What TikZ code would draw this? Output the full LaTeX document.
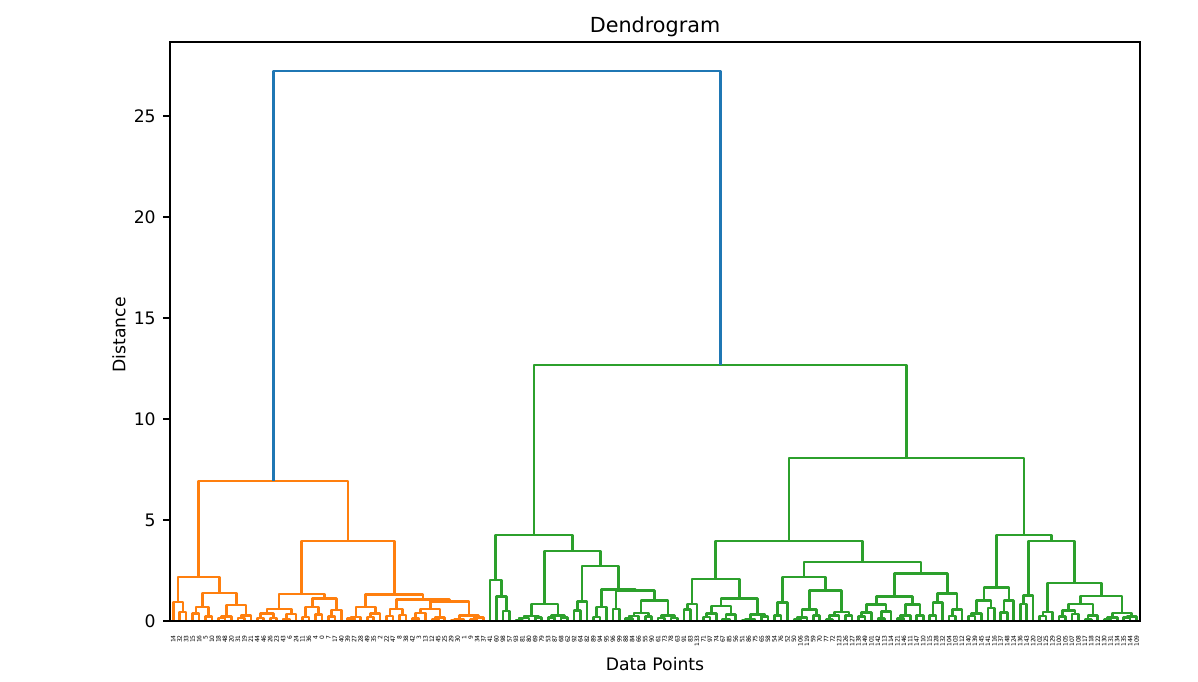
\documentclass[tikz,border=0pt]{standalone}
\usepackage{fontspec}
\setmainfont{DejaVu Sans}
\usepackage{tikz}
\usetikzlibrary{calc}
\definecolor{tabblue}{HTML}{1F77B4}
\definecolor{taborange}{HTML}{FF7F0E}
\definecolor{tabgreen}{HTML}{2CA02C}

% U-shaped link over two clusters, top at height #4
\def\merge#1#2#3#4{%
  \path ($(#2)!0.5!(#3)$) coordinate (#1x);
  \coordinate (#1) at (#1x |- 0,#4);
  \draw (#2) |- (#1) -| (#3);}

% cluster of the leaves #2..#3, top link at height #4
\def\clus#1#2#3#4{%
  \ifnum#2=#3\relax
    \coordinate (#1) at (#2-0.5,0);
  \else
    \begingroup
    \pgfmathtruncatemacro\clusmid{(#2+#3)/2}%
    \pgfmathtruncatemacro\clusnxt{\clusmid+1}%
    \pgfmathsetmacro\clushl{#4*(0.48+0.2*sin(37*#2+53*#3))}%
    \pgfmathsetmacro\clushr{#4*(0.48+0.2*cos(59*#3+23*#2))}%
    \edef\clusgo{\noexpand\clus{#1l}{#2}{\clusmid}{\clushl}%
      \noexpand\clus{#1r}{\clusnxt}{#3}{\clushr}}%
    \clusgo
    \merge{#1}{#1l}{#1r}{#4}%
    \endgroup
  \fi}

\begin{document}
\begin{tikzpicture}[x=0.02cm,y=0.02cm]
		\useasboundingbox (0,0) rectangle (1198,682);
		
		%%%%% TEXTS %%%%%
		\node[font=\fontsize{11.8}{14}\selectfont] (title) at (655,655) {Dendrogram};
		\node[font=\fontsize{9.8}{12}\selectfont] (xlab) at (655,18) {Data Points};
		\node[font=\fontsize{9.8}{12}\selectfont, rotate=90] (ylab) at (119,347) {Distance};
		
		\begin{scope}[shift={(170,61)}, x=0.129333cm, y=0.404cm, line width=1.5pt, line join=round]
		
		%%%%% AXES %%%%%
		\foreach \v in {0,5,...,25} {
			\draw[line width=0.79pt] (0,\v) -- ++(-0.14cm,0);
			\node[font=\fontsize{9.8}{12}\selectfont, anchor=east, inner sep=0pt] (yt\v) at ([xshift=-0.26cm]0,\v) {\v};
		}
		\foreach \lab [count=\i] in {14,32,33,15,16,5,10,18,48,20,31,19,21,44,46,26,23,43,6,24,
			11,36,4,0,7,17,40,39,27,28,49,35,2,22,47,8,38,42,3,13,12,45,25,29,30,1,9,34,37,
			41,60,98,57,93,81,80,69,79,53,87,68,62,92,64,82,89,94,95,96,99,88,84,66,55,90,61,73,78,63,
			91,83,133,71,97,74,67,85,56,51,86,75,65,58,54,76,52,50,106,119,59,
			70,77,72,123,126,127,138,149,101,142,113,114,121,146,111,147,110,115,128,132,104,103,112,140,139,
			145,141,116,137,148,124,136,143,120,102,125,129,100,105,107,108,117,118,122,130,131,134,135,144,109} {
			\node[font=\fontsize{3.4}{4}\selectfont, rotate=90, anchor=east, inner sep=0pt] (lab\i) at ([yshift=-0.26cm]\i-0.5,0) {\lab};
		}
		
		%%%%% ORANGE %%%%%
		\begin{scope}[color=taborange]
		\clus{a1}{1}{1}{0}
		\clus{a2}{2}{3}{0.45}
		\merge{a}{a1}{a2}{0.94}
		\clus{b1}{4}{7}{0.7}
		\clus{b2}{8}{13}{0.8}
		\merge{b}{b1}{b2}{1.38}
		\merge{oA}{a}{b}{2.18}
		\clus{c1}{14}{20}{0.6}
		\clus{c2}{21}{27}{1.1}
		\merge{c}{c1}{c2}{1.34}
		\clus{d1}{28}{33}{0.7}
		\clus{d2}{34}{37}{0.6}
		\clus{d3}{38}{49}{0.95}
		\merge{d4}{d2}{d3}{1.05}
		\merge{d}{d1}{d4}{1.3}
		\merge{oB}{c}{d}{3.96}
		\merge{O}{oA}{oB}{6.93}
		\end{scope}
		
		%%%%% GREEN %%%%%
		\begin{scope}[color=tabgreen]
		\clus{e1}{50}{50}{0}
		\clus{e2}{51}{51}{0}
		\clus{e3}{52}{53}{0.5}
		\merge{e4}{e2}{e3}{1.2}
		\merge{e}{e1}{e4}{2.03}
		\clus{fA}{54}{62}{0.85}
		\clus{fB}{63}{65}{0.96}
		\clus{fC}{66}{68}{0.7}
		\clus{fD}{69}{70}{0.6}
		\clus{fE}{71}{79}{1.0}
		\merge{fF}{fD}{fE}{1.5}
		\merge{fG}{fC}{fF}{1.57}
		\merge{fH}{fB}{fG}{2.72}
		\merge{f}{fA}{fH}{3.47}
		\merge{gA}{e}{f}{4.26}
		
		\clus{h1}{80}{82}{0.85}
		\clus{h2}{83}{93}{1.1}
		\merge{h}{h1}{h2}{2.08}
		\clus{i1}{94}{96}{0.9}
		\clus{i2}{97}{106}{1.5}
		\merge{i}{i1}{i2}{2.18}
		\clus{j1}{107}{117}{1.22}
		\clus{j2}{118}{123}{1.37}
		\merge{j}{j1}{j2}{2.36}
		\merge{k}{i}{j}{2.92}
		\merge{gB1}{h}{k}{3.96}
		
		\clus{m1}{124}{128}{1.0}
		\clus{m2}{129}{131}{1.0}
		\merge{m}{m1}{m2}{1.67}
		\clus{n1}{132}{134}{1.26}
		\clus{n2}{135}{137}{0.45}
		\clus{n3}{138}{150}{1.24}
		\merge{n4}{n2}{n3}{1.88}
		\merge{n}{n1}{n4}{3.96}
		\merge{gB2}{m}{n}{4.26}
		\merge{gB}{gB1}{gB2}{8.07}
		\merge{G}{gA}{gB}{12.67}
		\end{scope}
		
		%%%%% TOP %%%%%
		\begin{scope}[color=tabblue]
		\merge{top}{O}{G}{27.23}
		\end{scope}
		
		\end{scope}
		
		\draw[line width=0.79pt] (170,61) rectangle (1140,640);
	\end{tikzpicture}
\end{document}
